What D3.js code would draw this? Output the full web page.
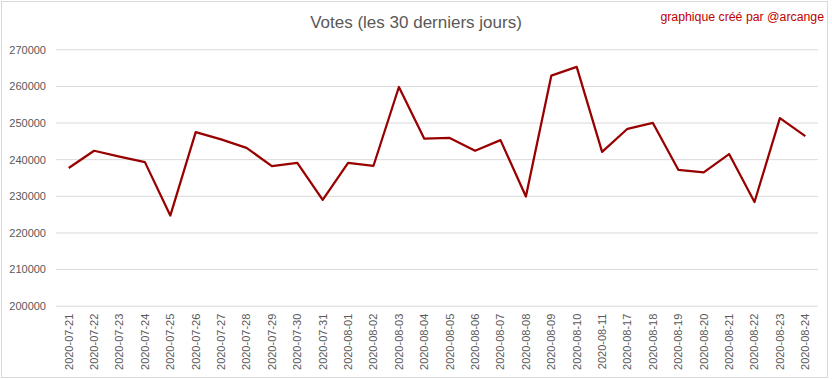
<!DOCTYPE html>
<html><head><meta charset="utf-8">
<script src="https://cdn.jsdelivr.net/npm/d3@7"></script>
<style>body{margin:0;background:#fff}svg{display:block}</style>
</head><body>
<script>
const dates = ["2020-07-21","2020-07-22","2020-07-23","2020-07-24","2020-07-25","2020-07-26","2020-07-27","2020-07-28","2020-07-29","2020-07-30","2020-07-31","2020-08-01","2020-08-02","2020-08-03","2020-08-04","2020-08-05","2020-08-06","2020-08-07","2020-08-08","2020-08-09","2020-08-10","2020-08-11","2020-08-17","2020-08-18","2020-08-19","2020-08-20","2020-08-21","2020-08-22","2020-08-23","2020-08-24"];
const votes = [237600,242300,240700,239200,224600,247400,245400,243100,238100,239000,228900,239000,238200,259700,245600,245800,242300,245200,229800,262800,265200,242000,248300,249900,237100,236400,241400,228300,251200,246300];
const yTicks = [200000,210000,220000,230000,240000,250000,260000,270000];
const title = "Votes (les 30 derniers jours)";
const credit = "graphique créé par @arcange";

const W=832,H=379;
const svg=d3.select("body").append("svg").attr("width",W).attr("height",H);
svg.append("rect").attr("x",1.5).attr("y",1.5).attr("width",826).attr("height",376).attr("fill","#fff").attr("stroke","#d9d9d9");
const font="'Liberation Sans', Arial, sans-serif";
const m={l:56,r:818,t:49.3,b:305.7};
const x=d3.scaleBand().domain(dates).range([m.l,m.r]);
const y=d3.scaleLinear().domain([200000,270000]).range([m.b,m.t]);

svg.append("text").attr("x",416).attr("y",28).attr("text-anchor","middle")
  .attr("font-family",font).attr("font-size",17).attr("fill","#595959").text(title);
svg.append("text").attr("x",824).attr("y",21).attr("text-anchor","end")
  .attr("font-family",font).attr("font-size",12.3).attr("fill","#c00000").text(credit);

const ya=svg.append("g").attr("transform",`translate(${m.l},0)`)
  .call(d3.axisLeft(y).tickValues(yTicks).tickFormat(d3.format("d")).tickSize(-(m.r-m.l)).tickPadding(10));
ya.select(".domain").remove();
ya.selectAll("line").attr("stroke","#d9d9d9").attr("stroke-width",1);
ya.selectAll("text").attr("font-family",font).attr("font-size",11).attr("fill","#595959").attr("dy","0.35em");

const xa=svg.append("g").attr("transform",`translate(0,${m.b})`)
  .call(d3.axisBottom(x).tickSize(0).tickPadding(0));
xa.select(".domain").remove();
xa.selectAll("text").attr("font-family",font).attr("font-size",11).attr("fill","#595959")
  .attr("text-anchor","end").attr("transform","rotate(-90)").attr("x",-8).attr("y",0).attr("dy","0.35em");

svg.append("path").datum(votes.map((v,i)=>[dates[i],v]))
  .attr("fill","none").attr("stroke","#990000").attr("stroke-width",2.25).attr("stroke-linejoin","round")
  .attr("d",d3.line().x(d=>x(d[0])+x.bandwidth()/2).y(d=>y(d[1])));
</script>
</body></html>
